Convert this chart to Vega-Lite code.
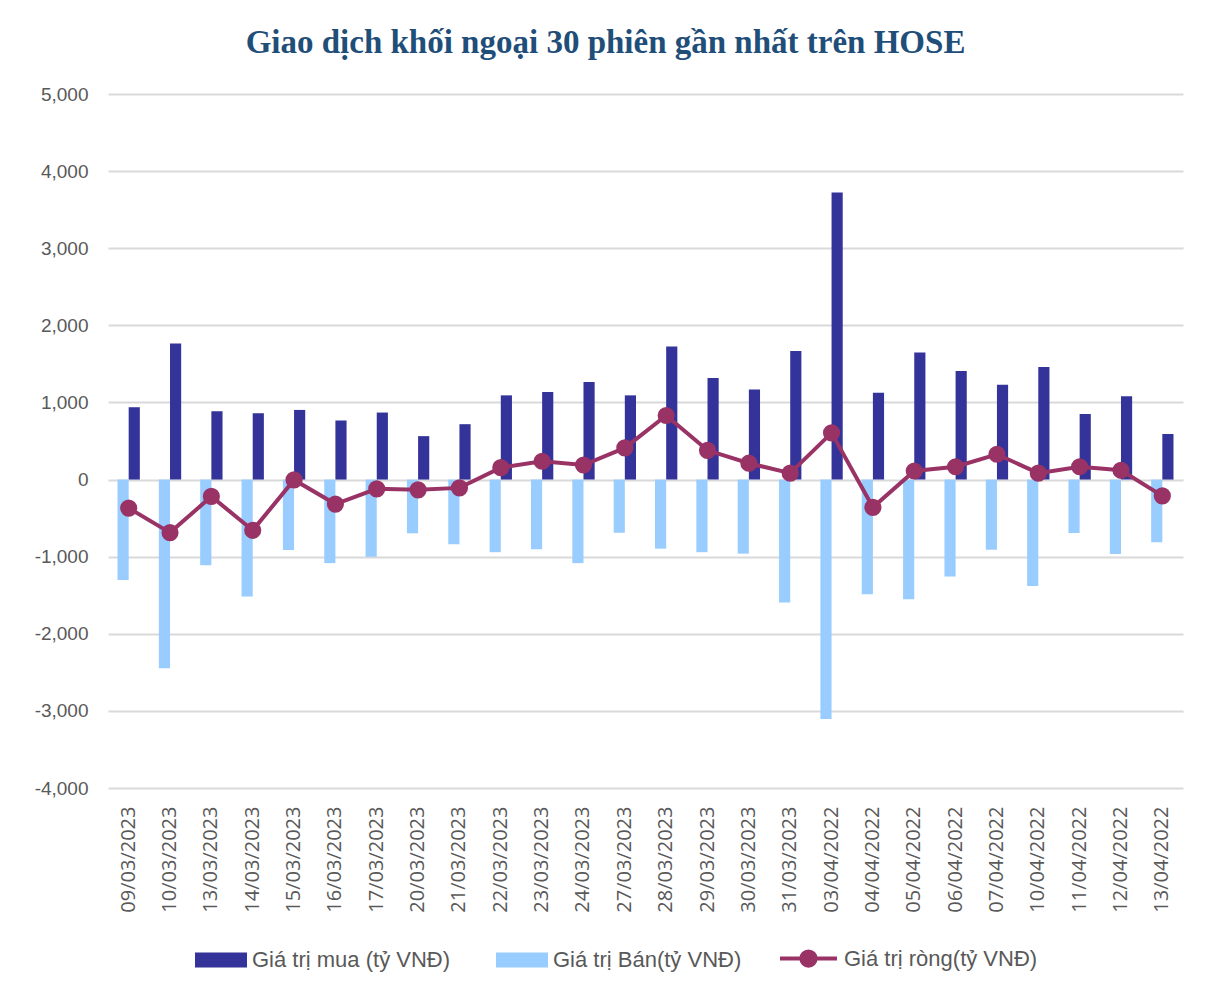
{
  "$schema": "https://vega.github.io/schema/vega-lite/v6.json",
  "width": 1075,
  "height": 694,
  "autosize": {"type": "none"},
  "padding": {"left": 108, "top": 94, "right": 26, "bottom": 208},
  "background": "white",
  "title": {
    "text": "Giao dịch khối ngoại 30 phiên gần nhất trên HOSE",
    "font": "Liberation Serif",
    "fontSize": 33,
    "fontWeight": "bold",
    "color": "#1F4E79",
    "anchor": "middle",
    "dx": -40,
    "offset": 25
  },
  "data": {
    "values": [
      {"date": "09/03/2023", "buy": 938, "sell": -1303, "net": -370},
      {"date": "10/03/2023", "buy": 1763, "sell": -2447, "net": -688},
      {"date": "13/03/2023", "buy": 886, "sell": -1110, "net": -219},
      {"date": "14/03/2023", "buy": 860, "sell": -1518, "net": -658},
      {"date": "15/03/2023", "buy": 903, "sell": -912, "net": -5},
      {"date": "16/03/2023", "buy": 766, "sell": -1084, "net": -318},
      {"date": "17/03/2023", "buy": 869, "sell": -1002, "net": -120},
      {"date": "20/03/2023", "buy": 563, "sell": -697, "net": -133},
      {"date": "21/03/2023", "buy": 718, "sell": -839, "net": -108},
      {"date": "22/03/2023", "buy": 1092, "sell": -942, "net": 155},
      {"date": "23/03/2023", "buy": 1135, "sell": -903, "net": 237},
      {"date": "24/03/2023", "buy": 1265, "sell": -1084, "net": 189},
      {"date": "27/03/2023", "buy": 1092, "sell": -690, "net": 410},
      {"date": "28/03/2023", "buy": 1727, "sell": -896, "net": 831},
      {"date": "29/03/2023", "buy": 1316, "sell": -942, "net": 379},
      {"date": "30/03/2023", "buy": 1169, "sell": -961, "net": 212},
      {"date": "31/03/2023", "buy": 1667, "sell": -1594, "net": 83},
      {"date": "03/04/2022", "buy": 3723, "sell": -3104, "net": 605},
      {"date": "04/04/2022", "buy": 1127, "sell": -1487, "net": -360},
      {"date": "05/04/2022", "buy": 1649, "sell": -1552, "net": 111},
      {"date": "06/04/2022", "buy": 1409, "sell": -1256, "net": 166},
      {"date": "07/04/2022", "buy": 1229, "sell": -910, "net": 328},
      {"date": "10/04/2022", "buy": 1460, "sell": -1381, "net": 83},
      {"date": "11/04/2022", "buy": 850, "sell": -693, "net": 166},
      {"date": "12/04/2022", "buy": 1081, "sell": -965, "net": 120},
      {"date": "13/04/2022", "buy": 591, "sell": -813, "net": -212}
    ]
  },
  "config": {
    "view": {"stroke": null},
    "axis": {"labelColor": "#595959", "domain": false, "ticks": false}
  },
  "encoding": {
    "x": {
      "field": "date",
      "type": "nominal",
      "sort": null,
      "scale": {"paddingInner": 0.46, "paddingOuter": 0.23},
      "axis": {
        "title": null,
        "labelAngle": -90,
        "labelFont": "Open Sans",
        "labelFontSize": 20,
        "labelPadding": 18,
        "grid": false
      }
    }
  },
  "layer": [
    {
      "transform": [
        {"fold": ["buy", "sell"], "as": ["key", "val"]}
      ],
      "mark": {"type": "bar"},
      "encoding": {
        "y": {
          "field": "val",
          "type": "quantitative",
          "scale": {"domain": [-4000, 5000], "nice": false},
          "axis": {
            "title": null,
            "values": [-4000, -3000, -2000, -1000, 0, 1000, 2000, 3000, 4000, 5000],
            "labelExpr": "replace(format(datum.value, ',.0f'), '−', '-')",
            "labelFont": "Liberation Sans",
            "labelFontSize": 19,
            "labelPadding": 20,
            "gridColor": "#D9D9D9",
            "gridWidth": 2
          }
        },
        "xOffset": {
          "field": "key",
          "type": "nominal",
          "scale": {"domain": ["sell", "buy"]}
        },
        "fill": {
          "field": "key",
          "type": "nominal",
          "scale": {
            "domain": ["buy", "sell"],
            "range": ["#333399", "#99CCFF"]
          },
          "legend": {
            "title": null,
            "orient": "none",
            "direction": "horizontal",
            "legendX": 87,
            "legendY": 840,
            "labelExpr": "datum.value === 'buy' ? 'Giá trị mua (tỷ VNĐ)' : 'Giá trị Bán(tỷ VNĐ)'",
            "symbolType": "M-1,-0.29L1,-0.29L1,0.29L-1,0.29Z",
            "symbolSize": 2704,
            "symbolStrokeWidth": 0,
            "labelFont": "Liberation Sans",
            "labelFontSize": 22,
            "labelLimit": 0,
            "labelColor": "#595959",
            "labelOffset": 5,
            "columnPadding": 45
          }
        }
      }
    },
    {
      "mark": {"type": "line", "strokeWidth": 4, "point": {"size": 230, "filled": true, "color": "#993366"}},
      "encoding": {
        "y": {"field": "net", "type": "quantitative"},
        "stroke": {
          "datum": "Giá trị ròng(tỷ VNĐ)",
          "scale": {"domain": ["Giá trị ròng(tỷ VNĐ)"], "range": ["#993366"]},
          "legend": {
            "title": null,
            "orient": "none",
            "legendX": 670,
            "legendY": 834,
            "symbolType": "M-1,0L1,0M0.25,0A0.25,0.25 0 1,1 -0.25,0A0.25,0.25 0 1,1 0.25,0",
            "symbolSize": 3249,
            "symbolStrokeWidth": 4,
            "symbolFillColor": "#993366",
            "symbolStrokeColor": "#993366",
            "labelFont": "Liberation Sans",
            "labelFontSize": 22,
            "labelLimit": 0,
            "labelColor": "#595959",
            "labelOffset": 5
          }
        }
      }
    }
  ]
}
